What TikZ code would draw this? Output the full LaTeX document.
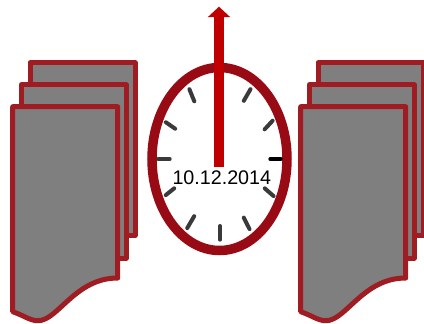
\documentclass[tikz,border=0pt]{standalone}
\usepackage{fontspec}
\setmainfont{Liberation Sans}
\usetikzlibrary{arrows.meta}
\definecolor{pageedge}{HTML}{9E1C22}
\definecolor{pagefill}{HTML}{7F7F7F}
\definecolor{rimred}{HTML}{990B14}
\definecolor{handred}{HTML}{C00000}
\definecolor{tickgray}{HTML}{3A3A3A}
\tikzset{
  docpage/.style={draw=pageedge, fill=pagefill, line width=5pt, line join=round},
  clockrim/.style={draw=rimred, fill=white, line width=9.5pt},
  clocktick/.style={draw=tickgray, line width=4pt, line cap=round, shorten >=1pt, shorten <=1pt},
}

\begin{document}
\begin{tikzpicture}[x=1pt,y=-1pt]
\useasboundingbox (0,0) rectangle (424,324);

% document stacks
\foreach \dx in {0,288} {
  \draw[docpage] (30+\dx,62.7) rectangle (135+\dx,235.7);
  \draw[docpage] (21.5+\dx,84.7) rectangle (126+\dx,258);
  \draw[docpage] (12.7+\dx,106.7) -- (117.7+\dx,106.7) -- (117.7+\dx,278)
    .. controls (75+\dx,278) and (58+\dx,320.7) .. (38+\dx,320.7)
    .. controls (30+\dx,320.7) and (25+\dx,316) .. (12.7+\dx,311.7) -- cycle;
}

% clock face
\draw[clockrim] (219.5,159) ellipse (67.5 and 91.5);

% ticks
\foreach \xa/\ya/\xb/\yb in {
  189/88.3/194.7/102.3, 251/88.3/243.3/101.7,
  165/121.7/176/129.3, 273.3/120/264/130,
  157.3/159/170.7/159,
  165/195.7/175/187.7, 274.3/196.7/264/187.7,
  186.7/229/194.7/215.3, 250/230/243.3/216.7,
  220/225/220/240.7}
  \draw[clocktick] (\xa,\ya) -- (\xb,\yb);
\draw[clocktick, draw=black] (269.3,159) -- (281.7,159);

% hand
\draw[-{Triangle[length=10.5pt,width=22pt]}, draw=handred, fill=handred, line width=10pt]
  (219,167.3) -- (219,6.7);

% date
\node[inner sep=0pt, font=\fontsize{19.7}{22}\selectfont] (datelabel) at (221.8,178) {10.12.2014};

\end{tikzpicture}
\end{document}
